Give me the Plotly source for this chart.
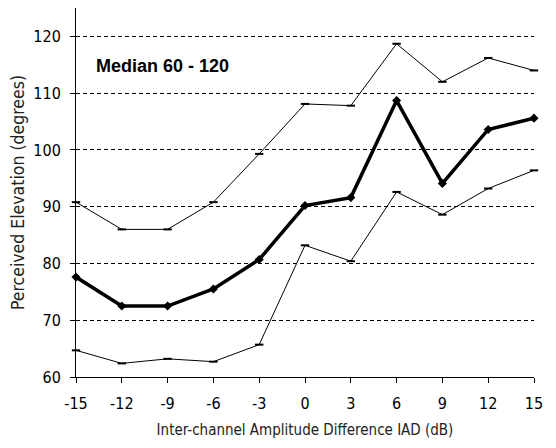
import plotly.graph_objects as go

iad = [-15, -12, -9, -6, -3, 0, 3, 6, 9, 12, 15]
upper = [90.8, 86.0, 86.0, 90.8, 99.3, 108.1, 107.8, 118.7, 112.0, 116.2, 114.0]
median = [77.6, 72.5, 72.5, 75.5, 80.7, 90.2, 91.6, 108.7, 94.1, 103.6, 105.6]
lower = [64.7, 62.4, 63.2, 62.7, 65.7, 83.2, 80.4, 92.6, 88.6, 93.2, 96.4]
x_ticks = [-15, -12, -9, -6, -3, 0, 3, 6, 9, 12, 15]
x_labels = ["-15", "-12", "-9", "-6", "-3", "0", "3", "6", "9", "12", "15"]
y_ticks = [60, 70, 80, 90, 100, 110, 120]

FONT = "DejaVu Sans Condensed, Liberation Sans Narrow, Arial Narrow, Liberation Sans, Arial, sans-serif"

fig = go.Figure()
for vals in (upper, lower):
    fig.add_trace(go.Scatter(
        x=iad, y=vals, mode="lines+markers",
        line=dict(color="black", width=1),
        marker=dict(symbol="line-ew", size=6, line=dict(color="black", width=2)),
        showlegend=False, cliponaxis=False))
fig.add_trace(go.Scatter(
    x=iad, y=median, mode="lines+markers",
    line=dict(color="black", width=3.5),
    marker=dict(symbol="diamond", size=7, color="black"),
    showlegend=False, cliponaxis=False))

fig.add_annotation(x=-13.8, y=114.8, xref="x", yref="y",
                   text="<b>Median 60 - 120</b>", showarrow=False,
                   xanchor="left", yanchor="middle",
                   font=dict(family="Liberation Sans, Arial, sans-serif", size=18, color="black"))

fig.update_layout(
    width=548, height=440,
    margin=dict(l=68, r=22, t=0, b=71),
    paper_bgcolor="white", plot_bgcolor="white",
    font=dict(family=FONT, size=16, color="black"),
    xaxis=dict(range=[-15, 15], tickvals=x_ticks, ticktext=x_labels,
               showgrid=False, zeroline=False, automargin=False,
               showline=True, linecolor="black", linewidth=1,
               ticks="outside", ticklen=5, tickcolor="black", ticklabelstandoff=7,
               title=dict(text="Inter-channel Amplitude Difference IAD (dB)",
                          font=dict(size=15, color="#222"), standoff=12)),
    yaxis=dict(range=[60, 125], tickvals=y_ticks, zeroline=False, automargin=False,
               showline=True, linecolor="black", linewidth=1,
               ticks="outside", ticklen=5, tickcolor="black", ticklabelstandoff=6,
               showgrid=True, gridcolor="black", gridwidth=1, griddash="4px,3px",
               title=dict(text="Perceived Elevation (degrees)",
                          font=dict(size=17.5, color="#222"), standoff=4)),
)

fig.write_html("out.html")
